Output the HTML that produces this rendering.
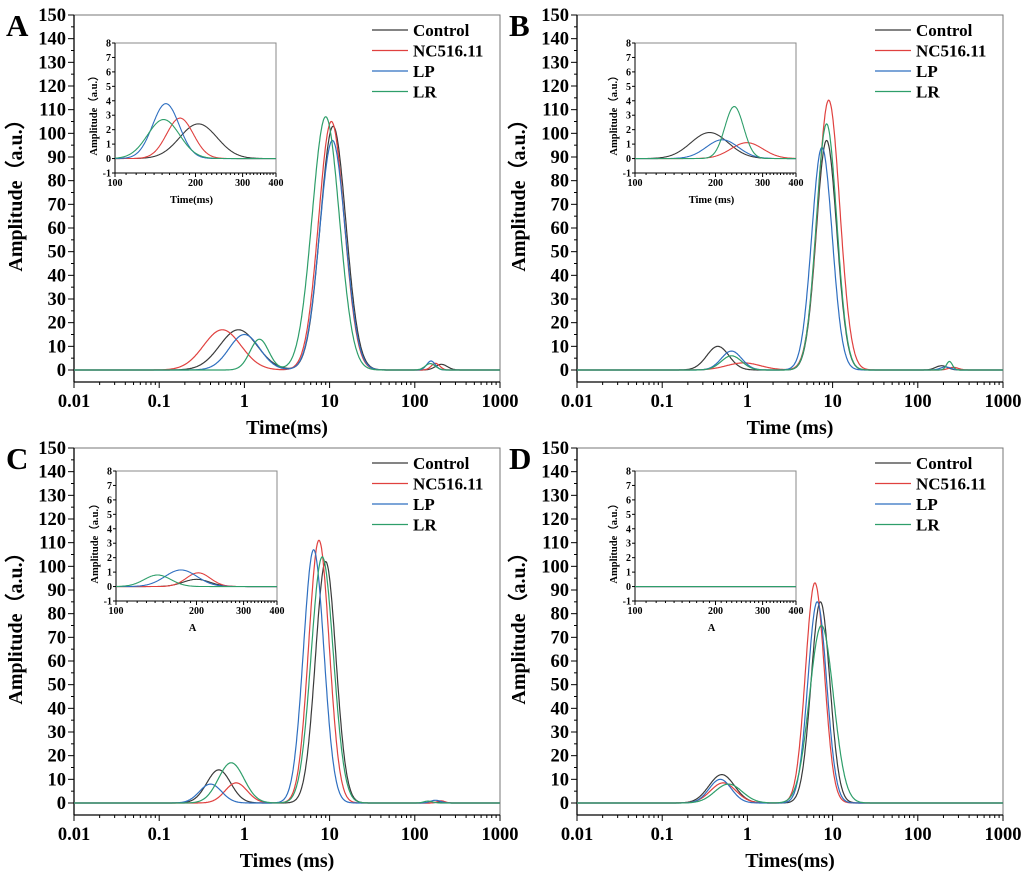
<!DOCTYPE html>
<html><head><meta charset="utf-8">
<style>
html,body{margin:0;padding:0;background:#fff;}
svg{display:block;font-family:"Liberation Serif",serif;font-weight:bold;}
</style></head><body>
<svg id="s" width="1024" height="882" xmlns="http://www.w3.org/2000/svg"></svg>
<script>
const S=document.getElementById('s');let h='';
const C={k:'#3a3a3a',r:'#e0413f',b:'#2f6fc0',g:'#2e9e6a'};
function G(x,c,a,sg){const d=(Math.log10(x)-Math.log10(c))/sg;return a*Math.exp(-0.5*d*d);}
const P=[
 {ox:74,oy:15,L:'A',xl:'Time(ms)',ixl:'Time(ms)',ix:115,iy:43,
  s:[['k',[[0.85,17,0.22],[11,103,0.15]],[[205,2.4,0.07]]],
     ['r',[[0.55,17,0.22],[10.5,105,0.15]],[[175,2.8,0.05]]],
     ['b',[[1.0,15,0.18],[10.8,97,0.15]],[[155,3.8,0.05]]],
     ['g',[[1.5,13,0.11],[9,107,0.16]],[[152,2.7,0.06]]]]},
 {ox:577,oy:15,L:'B',xl:'Time (ms)',ixl:'Time (ms)',ix:635,iy:43,
  s:[['k',[[0.45,10,0.13],[8.5,97,0.12]],[[190,1.8,0.07]]],
     ['r',[[0.9,3,0.2],[9,114,0.13]],[[262,1.1,0.06]]],
     ['b',[[0.65,8,0.12],[7.5,94,0.12]],[[212,1.3,0.06]]],
     ['g',[[0.65,6,0.12],[8.5,104,0.12]],[[235,3.6,0.035]]]]},
 {ox:74,oy:448,L:'C',xl:'Times (ms)',ixl:'A',ix:116,iy:471,
  s:[['k',[[0.5,14,0.14],[9,102,0.12]],[[200,0.5,0.05]]],
     ['r',[[0.8,8.5,0.13],[7.5,111,0.12]],[[203,0.95,0.045]]],
     ['b',[[0.4,8,0.13],[6.5,107,0.12]],[[175,1.15,0.06]]],
     ['g',[[0.7,17,0.15],[8.2,104,0.13]],[[143,0.8,0.05]]]]},
 {ox:577,oy:448,L:'D',xl:'Times(ms)',ixl:'A',ix:635,iy:471,
  s:[['k',[[0.5,12,0.15],[7.2,85,0.11]],[]],
     ['r',[[0.52,8.5,0.15],[6.2,93,0.11]],[]],
     ['b',[[0.48,10,0.13],[6.6,85,0.11]],[]],
     ['g',[[0.6,8,0.16],[7.4,75,0.14]],[]]]}
];
for(const p of P){
 const W=426,Hh=367,x0=p.ox,y0=p.oy,yz=y0+355,ky=355/150;
 const X=v=>x0+(Math.log10(v)+2)*W/5, Y=v=>yz-v*ky;
 h+=`<rect x="${x0}" y="${y0}" width="${W}" height="${Hh}" fill="none" stroke="#777" stroke-width="1"/>`;
 h+=`<line x1="${x0}" y1="${y0}" x2="${x0}" y2="${y0+Hh}" stroke="#000" stroke-width="1.3"/><line x1="${x0}" y1="${y0+Hh}" x2="${x0+W}" y2="${y0+Hh}" stroke="#000" stroke-width="1.3"/>`;
 for(let v=0;v<=150;v+=5){const y=Y(v);const M=v%10==0;h+=`<line x1="${x0-(M?6:3)}" y1="${y}" x2="${x0}" y2="${y}" stroke="#000"/>`;if(M)h+=`<text x="${x0-8}" y="${y+6}" font-size="18.5" text-anchor="end">${v}</text>`;}
 const lab=['0.01','0.1','1','10','100','1000'];
 for(let d=-2;d<=3;d++){const x=X(Math.pow(10,d));h+=`<line x1="${x}" y1="${y0+Hh}" x2="${x}" y2="${y0+Hh+6}" stroke="#000"/><text x="${x}" y="${y0+Hh+25}" font-size="18.5" text-anchor="middle">${lab[d+2]}</text>`;
  if(d<3)for(let m=2;m<10;m++){const xm=X(m*Math.pow(10,d));h+=`<line x1="${xm}" y1="${y0+Hh}" x2="${xm}" y2="${y0+Hh+3}" stroke="#000"/>`;}}
 h+=`<text x="${x0+W/2}" y="${y0+Hh+52}" font-size="20" text-anchor="middle">${p.xl}</text>`;
 h+=`<text transform="translate(${x0-52},${y0+Hh/2-8}) rotate(-90)" font-size="20" text-anchor="middle">Amplitude（a.u.）</text>`;
 h+=`<text x="${x0-68}" y="${y0+21}" font-size="31">${p.L}</text>`;
 const nm=['Control','NC516.11','LP','LR'];
 ['k','r','b','g'].forEach((c,i)=>{const y=y0+15+i*20.5;h+=`<line x1="${x0+298}" y1="${y}" x2="${x0+334}" y2="${y}" stroke="${C[c]}" stroke-width="1.3"/><text x="${x0+339}" y="${y+6}" font-size="17">${nm[i]}</text>`;});
 for(const [c,pk,sm] of p.s){let d='';for(let i=0;i<=900;i++){const lx=-2+5*i/900,v=Math.pow(10,lx);let a=0;for(const q of pk)a+=G(v,q[0],q[1],q[2]);for(const q of sm)a+=G(v,q[0],q[1],q[2]);d+=(i?'L':'M')+X(v).toFixed(1)+' '+Y(a).toFixed(1);}
  h+=`<path d="${d}" fill="none" stroke="${C[c]}" stroke-width="1.2"/>`;}
 const ix=p.ix,iy=p.iy,iw=161,ih=130,ku=ih/9;
 const IX=v=>ix+Math.log10(v/100)/Math.log10(4)*iw, IY=v=>iy+(8-v)*ku;
 h+=`<rect x="${ix}" y="${iy}" width="${iw}" height="${ih}" fill="#fff" stroke="#888"/>`;
 h+=`<line x1="${ix}" y1="${iy}" x2="${ix}" y2="${iy+ih}" stroke="#000"/><line x1="${ix}" y1="${iy+ih}" x2="${ix+iw}" y2="${iy+ih}" stroke="#000"/>`;
 for(let v=-1;v<=8;v++){const y=IY(v);h+=`<line x1="${ix-3}" y1="${y}" x2="${ix}" y2="${y}" stroke="#000"/><text x="${ix-4}" y="${y+3.5}" font-size="10" text-anchor="end">${v}</text>`;}
 for(let v=100;v<=400;v+=10){const x=IX(v);const M=v%100==0;h+=`<line x1="${x}" y1="${iy+ih}" x2="${x}" y2="${iy+ih+(M?4:2)}" stroke="#000"/>`;if(M)h+=`<text x="${x}" y="${iy+ih+13}" font-size="10" text-anchor="middle">${v}</text>`;}
 h+=`<text x="${ix+iw/2-4}" y="${iy+ih+30}" font-size="10.5" text-anchor="middle">${p.ixl}</text>`;
 h+=`<text transform="translate(${ix-18},${iy+ih/2+5}) rotate(-90)" font-size="10.5" text-anchor="middle">Amplitude（a.u.）</text>`;
 for(const [c,pk,sm] of p.s){let d='';for(let i=0;i<=300;i++){const v=100*Math.pow(4,i/300);let a=0;for(const q of sm)a+=G(v,q[0],q[1],q[2]);d+=(i?'L':'M')+IX(v).toFixed(1)+' '+IY(a).toFixed(1);}
  h+=`<path d="${d}" fill="none" stroke="${C[c]}" stroke-width="1.1"/>`;}
}
S.innerHTML=h;
</script>
</body></html>
